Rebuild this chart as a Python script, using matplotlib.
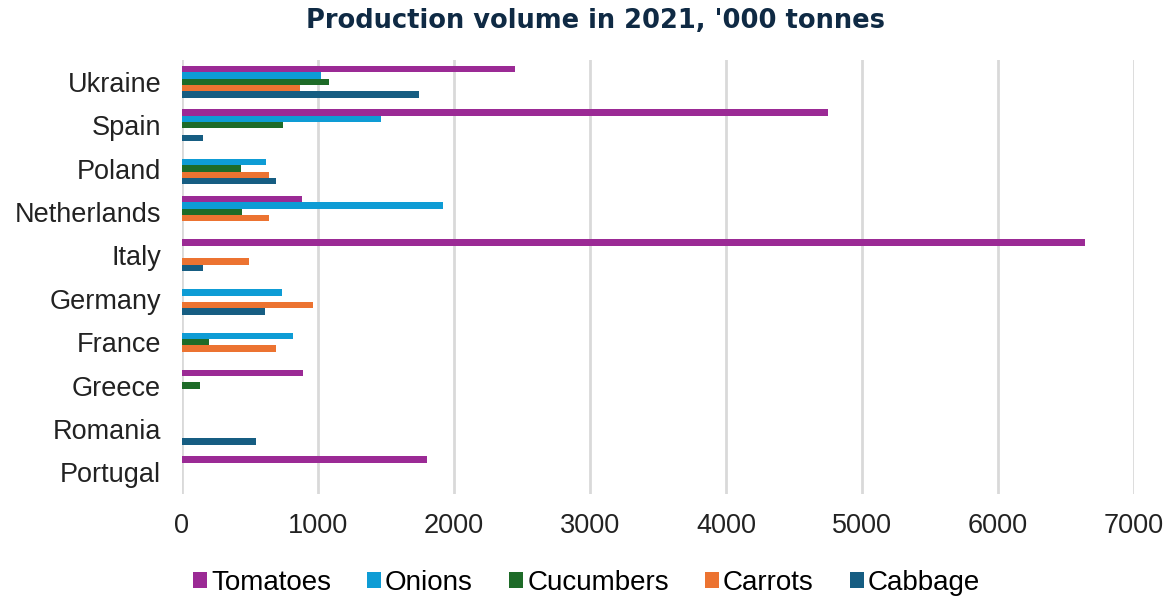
import numpy as np
import matplotlib
matplotlib.use("Agg")
import matplotlib.pyplot as plt

countries = ["Ukraine", "Spain", "Poland", "Netherlands", "Italy",
             "Germany", "France", "Greece", "Romania", "Portugal"]
tomatoes = [2450, 4750, 0, 880, 6640, 0, 0, 890, 0, 1800]
onions = [1020, 1460, 620, 1920, 0, 735, 815, 0, 0, 0]
cucumbers = [1080, 745, 435, 440, 0, 0, 200, 130, 0, 0]
carrots = [865, 0, 640, 640, 495, 965, 690, 0, 0, 0]
cabbage = [1745, 155, 690, 0, 155, 610, 0, 0, 545, 0]

series = ["Tomatoes", "Onions", "Cucumbers", "Carrots", "Cabbage"]
values = [tomatoes, onions, cucumbers, carrots, cabbage]
colors = ["#9B2A95", "#0E9CD5", "#1E6B28", "#EC7331", "#165D82"]

plt.rcParams["font.family"] = ["Liberation Sans", "DejaVu Sans"]

fig = plt.figure(figsize=(11.73, 6.01), dpi=100)
ax = fig.add_axes([182 / 1173, 1 - 494 / 601, (1134 - 182) / 1173, (494 - 60) / 601])

y = np.arange(len(countries))
bar_h = 0.146
for i, (name, vals, col) in enumerate(zip(series, values, colors)):
    offs = (i - 2) * bar_h
    ax.barh(y + offs, vals, height=bar_h, color=col, label=name)

ax.set_xlim(0, 7000)
ax.set_ylim(len(countries) - 0.5, -0.5)
ax.set_yticks(y)
ax.set_yticklabels(countries)
ax.set_xticks(np.arange(0, 7001, 1000))
ax.tick_params(axis="both", length=0, labelsize=19.5, colors="#222222")
ax.tick_params(axis="x", pad=14)
ax.tick_params(axis="y", pad=15)
ax.grid(axis="x", color="#d9d9d9", linewidth=2)
ax.set_axisbelow(True)
for s in ax.spines.values():
    s.set_visible(False)

fig.text(596 / 1173, 1 - 21 / 601, "Production volume in 2021, '000 tonnes",
         ha="center", va="center", fontsize=18.5, fontweight="bold",
         color="#0F2A44", family="DejaVu Sans")

fig.legend(loc="center", bbox_to_anchor=(0.5, 1 - 583 / 601), ncol=5, frameon=False,
           fontsize=20, handlelength=0.5, handleheight=0.5, handletextpad=0.15,
           columnspacing=1.3)

fig.savefig("out.png", dpi=100)
